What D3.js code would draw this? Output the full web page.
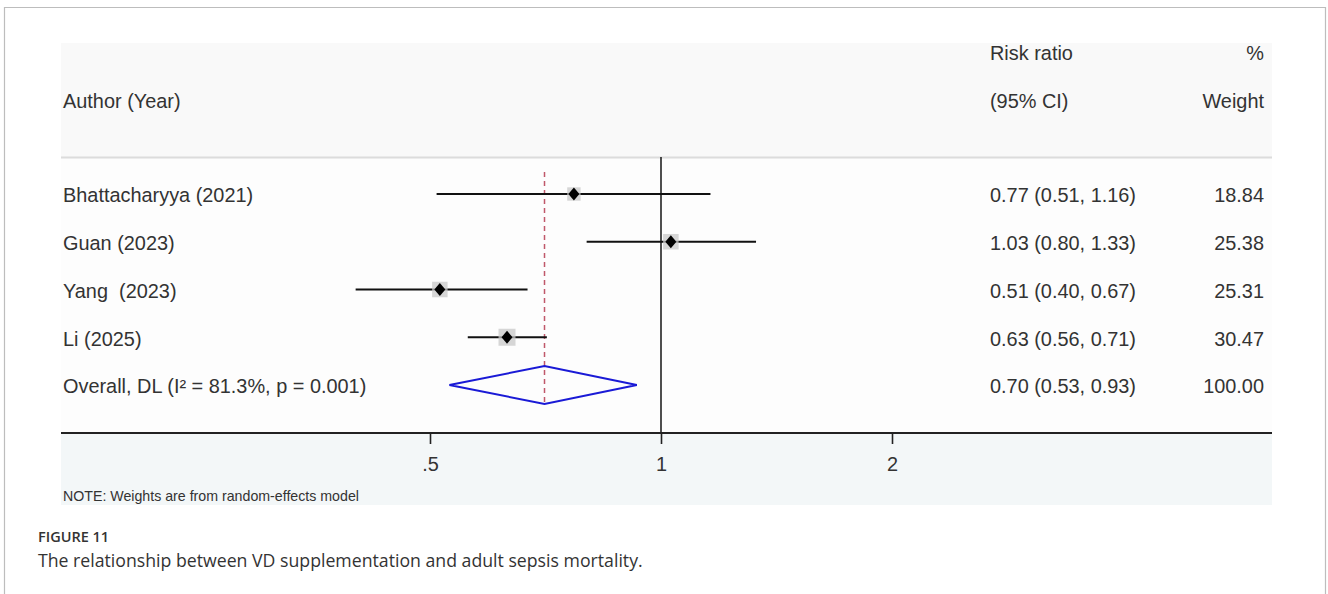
<!DOCTYPE html>
<html>
<head>
<meta charset="utf-8">
<script src="https://cdn.jsdelivr.net/npm/d3@7"></script>
<style>
  body { margin: 0; background: #fff; }
  svg text { font-family: "Liberation Sans", Arial, sans-serif; fill: #333; white-space: pre; }
</style>
</head>
<body>
<div id="chart"></div>
<script>
// Study data
const studies = ["Bhattacharyya (2021)", "Guan (2023)", "Yang  (2023)", "Li (2025)"];
const rr = [0.77, 1.03, 0.515, 0.63];
const lower = [0.51, 0.80, 0.40, 0.56];
const upper = [1.16, 1.33, 0.67, 0.71];
const ciText = ["0.77 (0.51, 1.16)", "1.03 (0.80, 1.33)", "0.51 (0.40, 0.67)", "0.63 (0.56, 0.71)"];
const weights = [18.84, 25.38, 25.31, 30.47];
const weightText = ["18.84", "25.38", "25.31", "30.47"];

// Pooled estimate
const overallLabel = "Overall, DL (I\u00B2 = 81.3%, p = 0.001)";
const overall = [0.705, 0.53, 0.93]; // estimate, lower, upper
const overallText = "0.70 (0.53, 0.93)";
const overallWeight = "100.00";

const tickValues = [0.5, 1, 2];
const tickLabels = [".5", "1", "2"];

const width = 1328, height = 594;
const fs = "19.9px";

const svg = d3.select("#chart")
    .append("svg")
    .attr("width", width)
    .attr("height", height);

// outer frame (open at the bottom)
svg.append("path")
    .attr("d", `M4.5,${height} V7.5 H1325.5 V${height}`)
    .attr("fill", "none")
    .attr("stroke", "#bdbdbd")
    .attr("stroke-width", 1.2);

// panel backgrounds
const panelL = 61, panelR = 1272;
svg.append("rect").attr("x", panelL).attr("y", 43).attr("width", panelR - panelL).attr("height", 114).attr("fill", "#f9f9f9");
svg.append("rect").attr("x", panelL).attr("y", 157).attr("width", panelR - panelL).attr("height", 276).attr("fill", "#fdfdfd");
svg.append("rect").attr("x", panelL).attr("y", 433).attr("width", panelR - panelL).attr("height", 72).attr("fill", "#f3f7f8");

// scales
const x = d3.scaleLog().domain([0.5, 2]).range([430, 892]);
const y = d3.scalePoint()
    .domain(d3.range(studies.length + 1))
    .range([194, 385]);
const boxSize = d3.scaleSqrt().domain([0, 30.47]).range([0, 17]);

const axisY = 433;

// header
svg.append("line")
    .attr("x1", panelL).attr("x2", panelR)
    .attr("y1", 157.5).attr("y2", 157.5)
    .attr("stroke", "#dcdcdc").attr("stroke-width", 2);

const header = svg.append("g").style("font-size", fs);
header.append("text").attr("x", 63).attr("y", 108).text("Author (Year)");
header.append("text").attr("x", 990).attr("y", 60).text("Risk ratio");
header.append("text").attr("x", 990).attr("y", 108).text("(95% CI)");
header.append("text").attr("x", 1264).attr("y", 60).attr("text-anchor", "end").text("%");
header.append("text").attr("x", 1264).attr("y", 108).attr("text-anchor", "end").text("Weight");

// null line
svg.append("line")
    .attr("x1", x(1)).attr("x2", x(1))
    .attr("y1", 157).attr("y2", axisY)
    .attr("stroke", "#222").attr("stroke-width", 1.6);

// pooled estimate dashed line
svg.append("line")
    .attr("x1", x(overall[0])).attr("x2", x(overall[0]))
    .attr("y1", 172).attr("y2", y(studies.length) + 19)
    .attr("stroke", "#c0586a").attr("stroke-width", 1.5)
    .attr("stroke-dasharray", "5,4");

// study rows
const rows = svg.selectAll(".row")
    .data(studies)
    .enter()
    .append("g")
    .attr("class", "row")
    .attr("transform", (d, i) => `translate(0,${y(i)})`);

rows.append("line")
    .attr("x1", (d, i) => x(lower[i]))
    .attr("x2", (d, i) => x(upper[i]))
    .attr("stroke", "#111")
    .attr("stroke-width", 2);

rows.append("rect")
    .attr("x", (d, i) => x(rr[i]) - boxSize(weights[i]) / 2)
    .attr("y", (d, i) => -boxSize(weights[i]) / 2)
    .attr("width", (d, i) => boxSize(weights[i]))
    .attr("height", (d, i) => boxSize(weights[i]))
    .attr("fill", "#c8c8c8")
    .attr("opacity", 0.75);

rows.append("path")
    .attr("d", (d, i) => {
        const cx = x(rr[i]);
        return `M${cx},-6.5 L${cx + 5.5},0 L${cx},6.5 L${cx - 5.5},0 Z`;
    })
    .attr("fill", "#000");

rows.append("text")
    .attr("x", 63).attr("y", 1.5).attr("dy", "0.35em")
    .style("font-size", fs)
    .text(d => d);

rows.append("text")
    .attr("x", 990).attr("y", 1.5).attr("dy", "0.35em")
    .style("font-size", fs)
    .text((d, i) => ciText[i]);

rows.append("text")
    .attr("x", 1264).attr("y", 1.5).attr("dy", "0.35em")
    .attr("text-anchor", "end")
    .style("font-size", fs)
    .text((d, i) => weightText[i]);

// overall row
const oy = y(studies.length);
svg.append("path")
    .attr("d", `M${x(overall[1])},${oy} L${x(overall[0])},${oy - 19} L${x(overall[2])},${oy} L${x(overall[0])},${oy + 19} Z`)
    .attr("fill", "none")
    .attr("stroke", "#1a1ad6")
    .attr("stroke-width", 2);

svg.append("text").attr("x", 63).attr("y", oy + 1.5).attr("dy", "0.35em").style("font-size", fs).text(overallLabel);
svg.append("text").attr("x", 990).attr("y", oy + 1.5).attr("dy", "0.35em").style("font-size", fs).text(overallText);
svg.append("text").attr("x", 1264).attr("y", oy + 1.5).attr("dy", "0.35em").attr("text-anchor", "end").style("font-size", fs).text(overallWeight);

// x axis
svg.append("line")
    .attr("x1", panelL).attr("x2", panelR)
    .attr("y1", axisY).attr("y2", axisY)
    .attr("stroke", "#222").attr("stroke-width", 2);

const axis = d3.axisBottom(x)
    .tickValues(tickValues)
    .tickSize(11)
    .tickPadding(13)
    .tickFormat((d, i) => tickLabels[i]);

const axisG = svg.append("g")
    .attr("transform", `translate(0,${axisY})`)
    .call(axis);
axisG.select(".domain").remove();
axisG.selectAll(".tick line").attr("stroke", "#222").attr("stroke-width", 1.6);
axisG.selectAll(".tick text")
    .style("font-size", fs)
    .style("font-family", "Liberation Sans, Arial, sans-serif")
    .attr("fill", "#333");

// note
svg.append("text")
    .attr("x", 63).attr("y", 501)
    .style("font-size", "14.2px")
    .text("NOTE: Weights are from random-effects model");

// figure caption
svg.append("text")
    .attr("x", 38).attr("y", 542)
    .style("font-family", "'Open Sans', sans-serif")
    .style("font-size", "14.5px")
    .style("font-weight", "600")
    .attr("fill", "#6b6b6b")
    .text("FIGURE 11");

svg.append("text")
    .attr("x", 38).attr("y", 567)
    .style("font-family", "'Open Sans', sans-serif")
    .style("font-size", "17.7px")
    .attr("fill", "#5a5a5a")
    .text("The relationship between VD supplementation and adult sepsis mortality.");
</script>
</body>
</html>
